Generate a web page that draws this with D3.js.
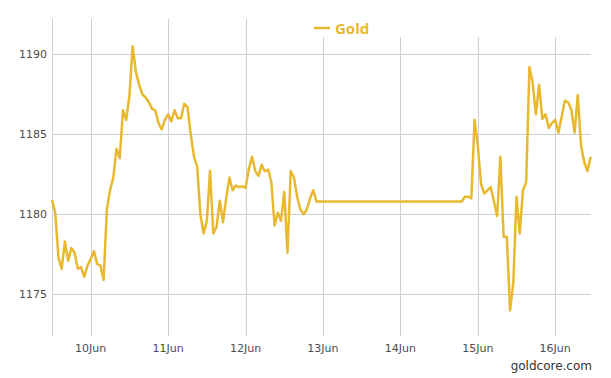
<!DOCTYPE html>
<html>
<head>
  <meta charset="UTF-8">
  <title>Gold</title>
  <script src="https://cdn.jsdelivr.net/npm/d3@7"></script>
  <style>
    body { margin: 0; background: #fff; }
    svg { display: block; }
    .grid line { stroke: #cfcfcf; stroke-width: 1px; shape-rendering: crispEdges; }
    .tick-label { font: 11px "DejaVu Sans", sans-serif; fill: #4d4d4d; }
    .line { fill: none; stroke: #e8b92f; stroke-width: 2.5px; stroke-linejoin: round; }
  </style>
</head>
<body>
  <div id="chart"></div>
  <script>
    // hourly prices, Friday session (from 9 Jun 12:00)
    var startA = "2015-06-09T12:00";
    var pricesA = [
      1180.9, 1180.1, 1177.3, 1176.6, 1178.3, 1177.1, 1177.9, 1177.6, 1176.6, 1176.7,
      1176.1, 1176.8, 1177.2, 1177.7, 1176.9, 1176.8, 1175.9, 1180.3, 1181.5, 1182.3,
      1184.1, 1183.5, 1186.5, 1185.9, 1187.4, 1190.5, 1188.9, 1188.1, 1187.5, 1187.3,
      1187.0, 1186.6, 1186.5, 1185.7, 1185.3, 1185.9, 1186.25, 1185.8, 1186.5, 1186.0,
      1186.0, 1186.9, 1186.7, 1185.0, 1183.6, 1183.0, 1180.0, 1178.8, 1179.6, 1182.7,
      1178.8, 1179.2, 1180.85, 1179.5, 1181.0, 1182.3, 1181.5, 1181.8, 1181.7, 1181.75,
      1181.65, 1182.8, 1183.6, 1182.7, 1182.4, 1183.1, 1182.7, 1182.8, 1182.0, 1179.3,
      1180.1, 1179.6, 1181.4, 1177.6, 1182.7, 1182.3, 1181.1, 1180.3, 1180.0, 1180.3,
      1181.0, 1181.5, 1180.8
    ];
    // hourly prices after the weekend (from 14 Jun 19:00)
    var startB = "2015-06-14T19:00";
    var pricesB = [
      1180.8, 1181.1, 1181.1, 1181.0, 1185.9, 1184.3, 1181.9, 1181.3, 1181.5, 1181.7,
      1180.8, 1179.9, 1183.6, 1178.6, 1178.6, 1174.0, 1175.7, 1181.1, 1178.8, 1181.5,
      1182.0, 1189.2, 1188.25, 1186.25, 1188.1, 1185.95, 1186.25, 1185.4, 1185.7, 1185.9,
      1185.1, 1186.1, 1187.1, 1187.0, 1186.55, 1185.1, 1187.45, 1184.3, 1183.25, 1182.7,
      1183.6
    ];
    var yTicks = [1175, 1180, 1185, 1190];
    var xTicks = ["2015-06-10", "2015-06-11", "2015-06-12", "2015-06-13", "2015-06-14", "2015-06-15", "2015-06-16"];
    var seriesName = "Gold";
    var sourceText = "goldcore.com";

    var width = 611, height = 378;
    var plotLeft = 52, plotRight = 590.7, plotTop = 19, plotBottom = 336;
    var goldColor = "#e8b92f";

    var parseTime = d3.timeParse("%Y-%m-%dT%H:%M");
    var parseDay = d3.timeParse("%Y-%m-%d");

    var data = [];
    pricesA.forEach(function (p, i) {
      data.push({ date: d3.timeHour.offset(parseTime(startA), i), price: p });
    });
    pricesB.forEach(function (p, i) {
      data.push({ date: d3.timeHour.offset(parseTime(startB), i), price: p });
    });

    /* Scale */
    var xScale = d3.scaleTime()
      .domain(d3.extent(data, function (d) { return d.date; }))
      .range([plotLeft, plotRight]);

    var yScale = d3.scaleLinear()
      .domain([1172.4, 1192.2])
      .range([plotBottom, plotTop]);

    var svg = d3.select("#chart").append("svg")
      .attr("width", width)
      .attr("height", height);

    /* Grid */
    var grid = svg.append("g").attr("class", "grid");

    grid.selectAll(".hline")
      .data(yTicks).enter()
      .append("line")
      .attr("x1", plotLeft).attr("x2", plotRight)
      .attr("y1", function (d) { return Math.round(yScale(d)) + 0.5; })
      .attr("y2", function (d) { return Math.round(yScale(d)) + 0.5; });

    grid.selectAll(".vline")
      .data(xTicks).enter()
      .append("line")
      .attr("x1", function (d) { return Math.round(xScale(parseDay(d))) + 0.5; })
      .attr("x2", function (d) { return Math.round(xScale(parseDay(d))) + 0.5; })
      .attr("y1", plotTop).attr("y2", plotBottom);

    grid.append("line")
      .attr("x1", plotLeft + 0.5).attr("x2", plotLeft + 0.5)
      .attr("y1", plotTop).attr("y2", plotBottom);

    /* Axis labels */
    svg.selectAll(".ylab")
      .data(yTicks).enter()
      .append("text")
      .attr("class", "tick-label")
      .attr("x", plotLeft - 5)
      .attr("y", function (d) { return yScale(d) + 4; })
      .attr("text-anchor", "end")
      .text(function (d) { return d; });

    var dayFormat = d3.timeFormat("%-d%b");
    svg.selectAll(".xlab")
      .data(xTicks).enter()
      .append("text")
      .attr("class", "tick-label")
      .attr("x", function (d) { return xScale(parseDay(d)); })
      .attr("y", 352)
      .attr("text-anchor", "middle")
      .text(function (d) { return dayFormat(parseDay(d)); });

    /* Legend (its white box hides the top of the grid lines) */
    var legend = svg.append("g");
    legend.append("rect")
      .attr("x", 290).attr("y", 0)
      .attr("width", width - 290).attr("height", 37)
      .attr("fill", "#fff");
    legend.append("line")
      .attr("x1", 314).attr("x2", 330)
      .attr("y1", 28).attr("y2", 28)
      .attr("stroke", goldColor)
      .attr("stroke-width", 2.5);
    legend.append("text")
      .attr("x", 335).attr("y", 34)
      .attr("fill", goldColor)
      .style("font", "bold 15px 'Open Sans', sans-serif")
      .text(seriesName);

    /* Line */
    var line = d3.line()
      .x(function (d) { return xScale(d.date); })
      .y(function (d) { return yScale(d.price); });

    svg.append("path")
      .datum(data)
      .attr("class", "line")
      .attr("d", line);

    svg.append("text")
      .attr("x", 592).attr("y", 370)
      .attr("text-anchor", "end")
      .attr("fill", "#333")
      .style("font", "12px 'DejaVu Sans', sans-serif")
      .text(sourceText);
  </script>
</body>
</html>
